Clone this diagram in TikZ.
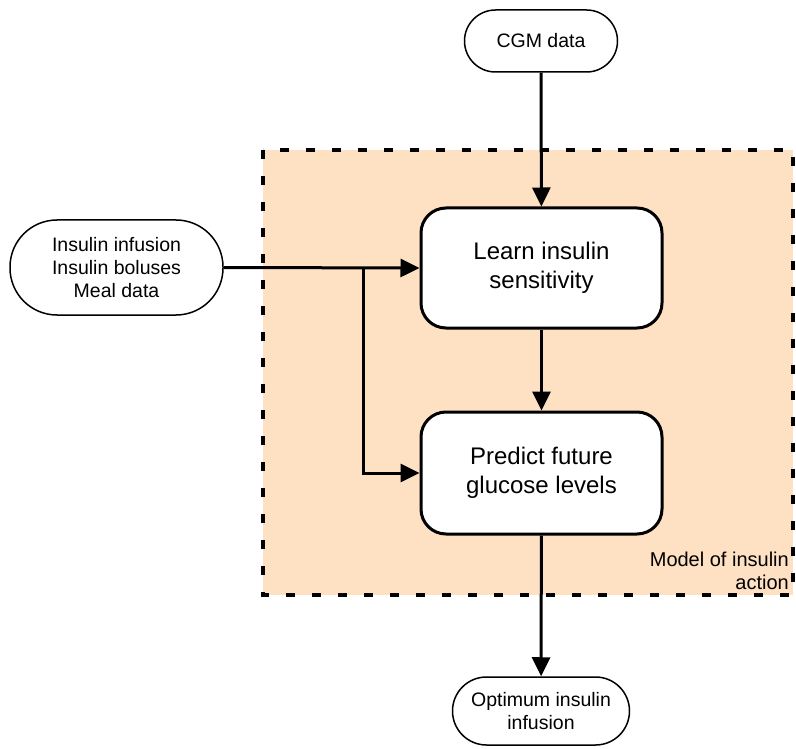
\documentclass[tikz,border=0pt]{standalone}
\usepackage{fontspec}
\setmainfont{Liberation Sans}
\usetikzlibrary{arrows.meta}
\definecolor{peach}{RGB}{254,224,194}
\begin{document}
\begin{tikzpicture}[x=1pt,y=-1pt,
  term/.style={draw=black,line width=1.5pt,fill=white,align=center,inner sep=0pt,
    font=\fontsize{19.5}{23.3}\selectfont},
  proc/.style={draw=black,line width=3pt,fill=white,align=center,inner sep=0pt,
    rounded corners=25pt,minimum width=241pt,
    font=\fontsize{24}{29}\selectfont},
  flow/.style={line width=3pt,-{Triangle[length=19pt,width=18pt]}},
  plain/.style={line width=3pt}]
\useasboundingbox (0,0) rectangle (796,749);
\fill[peach] (263,150) rectangle (793,595);
\draw[line width=4pt,dash pattern=on 9pt off 17pt] (263,150) rectangle (793,595);
\node[term,minimum width=153pt,minimum height=62pt,rounded corners=31pt] (cgm) at (541,41) {CGM data};
\node[term,minimum width=213pt,minimum height=95pt,rounded corners=47pt] (ins) at (116.5,267.5) {Insulin infusion\\Insulin boluses\\Meal data};
\node[proc,minimum height=120pt] (learn) at (541.5,268) {Learn insulin\\sensitivity};
\node[proc,minimum height=122pt] (pred) at (541.5,473) {Predict future\\glucose levels};
\node[term,minimum width=177pt,minimum height=68pt,rounded corners=34pt] (opt) at (541,711) {Optimum insulin\\infusion};
\node[anchor=south east,align=right,inner sep=0pt,font=\fontsize{20}{23}\selectfont] (lbl) at (789,590) {Model of insulin\\action};
\coordinate (br) at (363,268);
\draw[flow] (cgm) -- (learn);
\draw[flow] (ins.east) -- (learn.west);
\draw[flow] (br) |- (pred.west);
\draw[flow] (learn) -- (pred);
\draw[flow] (pred) -- (opt);
\end{tikzpicture}
\end{document}
